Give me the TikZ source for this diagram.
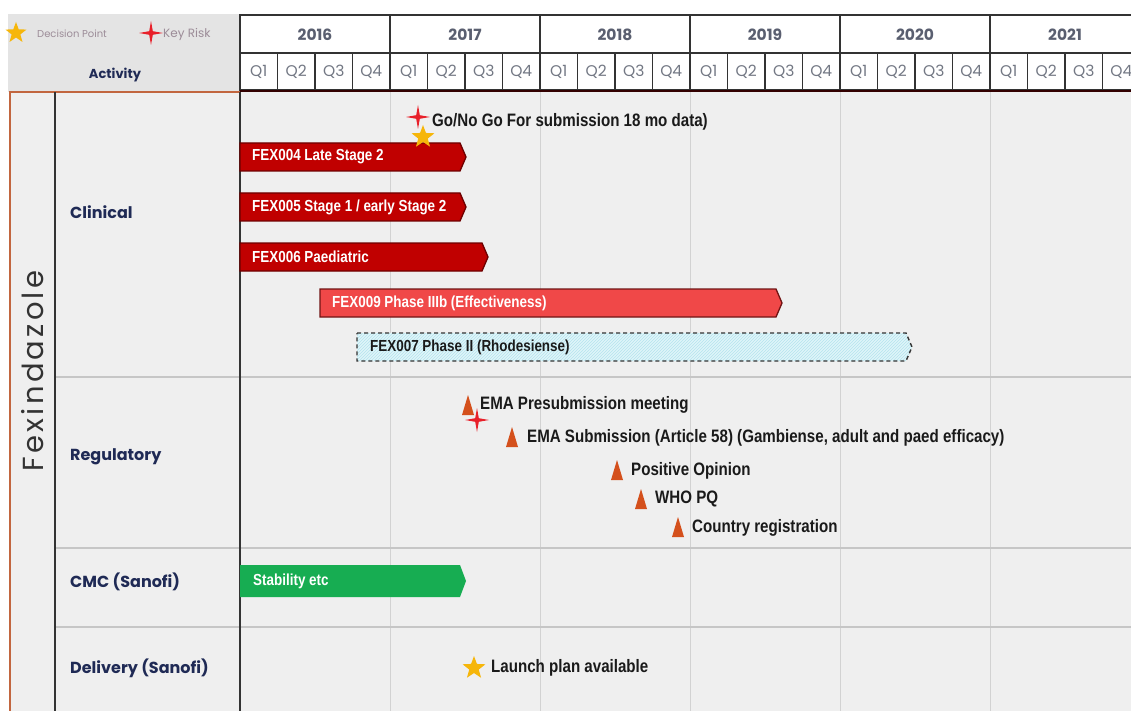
\documentclass[tikz,border=0pt]{standalone}
\usepackage{fontspec}
\setmainfont{Liberation Sans}
\newfontfamily\geo{Poppins}
\newfontfamily\geowide[LetterSpace=11]{Poppins}
\newfontfamily\narrowf[FakeStretch=0.84]{Liberation Sans}
\usetikzlibrary{shapes.geometric,patterns}
\definecolor{bggray}{HTML}{EFEFEF}
\definecolor{leggray}{HTML}{E4E4E4}
\definecolor{gridgray}{HTML}{D2D2D2}
\definecolor{sepgray}{HTML}{C6C6C6}
\definecolor{hdrline}{HTML}{333333}
\definecolor{framebr}{HTML}{C2663F}
\definecolor{navy}{HTML}{1F2A55}
\definecolor{yeartxt}{HTML}{5A5F70}
\definecolor{qtxt}{HTML}{737884}
\definecolor{legtxt}{HTML}{9C8C98}
\definecolor{darkred}{HTML}{C00000}
\definecolor{darkredb}{HTML}{6E0000}
\definecolor{lightred}{HTML}{F04848}
\definecolor{lightredb}{HTML}{701414}
\definecolor{stabgreen}{HTML}{17AD52}
\definecolor{tricol}{HTML}{D4501C}
\definecolor{starcol}{HTML}{F6B60A}
\definecolor{crosscol}{HTML}{E8202A}
\definecolor{cyanfill}{HTML}{DFF5F9}
\definecolor{cyanpat}{HTML}{B5E3EE}
\definecolor{mstxt}{HTML}{1A1A1A}
\tikzset{
  cattext/.style={font=\geo\bfseries\fontsize{16}{16}\selectfont, text=navy, anchor=west, inner sep=0},
  yeartext/.style={font=\geo\bfseries\fontsize{15.5}{15.5}\selectfont, text=yeartxt, inner sep=0},
  qtext/.style={font=\geo\fontsize{15.5}{15.5}\selectfont, text=qtxt, inner sep=0},
  bartext/.style={font=\narrowf\bfseries\fontsize{16}{16}\selectfont, text=white, anchor=west, inner sep=0},
  mstext/.style={font=\narrowf\bfseries\fontsize{18}{18}\selectfont, text=mstxt, anchor=west, inner sep=0},
  legtext/.style={font=\geo\fontsize{10}{10}\selectfont, text=legtxt, anchor=west, inner sep=0},
  decstar/.style={star, star points=5, star point ratio=2.4, fill=starcol, minimum size=24pt, inner sep=0, draw=none},
  hdrcell/.style={draw=hdrline, line width=1.6pt, fill=white},
}
\newcommand\gbar[5]{% x0, x1, ymid, fill, border
  \path[fill=#4, draw=#5, line width=1.3pt] (#1,#3-14) -- (#2-6,#3-14) -- (#2,#3) -- (#2-6,#3+14) -- (#1,#3+14) -- cycle;}
\newcommand\tri[2]{\fill[tricol] (#1-6,#2+10) -- (#1,#2-10) -- (#1+6,#2+10) -- cycle;}
\newcommand\krisk[2]{\fill[crosscol] (#1,#2-12) -- (#1+1.8,#2-1.8) -- (#1+12,#2) -- (#1+1.8,#2+1.8) -- (#1,#2+12) -- (#1-1.8,#2+1.8) -- (#1-12,#2) -- (#1-1.8,#2-1.8) -- cycle;}
\begin{document}
\begin{tikzpicture}[x=1pt,y=-1pt]
\useasboundingbox (0,0) rectangle (1131,711);
\fill[white] (0,0) rectangle (1131,711);
% legend area
\fill[leggray] (8,14) rectangle (240,92);
% content background
\fill[bggray] (10,92) rectangle (1131,711);
% vertical grid
\foreach \x in {390,540,690,840,990} \draw[gridgray, line width=1pt] (\x,92) -- (\x,711);
% row separators
\foreach \y in {377,548,627} \draw[sepgray, line width=1.6pt] (55,\y) -- (1131,\y);
% header cells
\foreach \i/\yr in {0/2016,1/2017,2/2018,3/2019,4/2020} {
  \draw[hdrcell] (240+150*\i,15) rectangle (390+150*\i,53);
  \node[yeartext] (yr\yr) at (315+150*\i,35) {\yr};
}
\path[fill=white] (990,15) rectangle (1131,53);
\draw[hdrline, line width=1.6pt] (1131,15) -- (990,15) -- (990,53) -- (1131,53);
\node[yeartext] (yr2021) at (1065,35) {2021};
\foreach \j in {0,...,23} {
  \pgfmathsetmacro\qx{240+37.5*\j}
  \pgfmathtruncatemacro\qn{mod(\j,4)+1}
  \draw[hdrcell] (\qx,53) rectangle (\qx+37.5,90);
  \node[qtext] (q\j) at (\qx+18.75,72) {Q\qn};
}
\draw[hdrline, line width=2.6pt] (240,53) -- (1131,53);
\draw[black!80!red, line width=2.6pt] (240,91) -- (1131,91);
% left frame
\draw[framebr, line width=1.5pt] (10,711) -- (10,92) -- (240,92);
\draw[hdrline, line width=1.5pt] (55,92) -- (55,711);
\draw[hdrline, line width=1.5pt] (240,92) -- (240,711);
% legend
\node[decstar, minimum size=22pt] (legstar) at (16,33) {};
\node[legtext] (legdp) at (37,34) {Decision Point};
\krisk{151}{33}
\node[legtext, font=\geo\fontsize{12}{12}\selectfont] (legkr) at (163,34) {Key Risk};
\node[font=\geo\bfseries\fontsize{13}{13}\selectfont, text=navy, inner sep=0] (activity) at (115,75) {Activity};
% labels
\node[font=\geowide\fontsize{29}{29}\selectfont, text=black!80, rotate=90, inner sep=0] (fex) at (33,371) {Fexindazole};
\node[cattext] (clin) at (70,212) {Clinical};
\node[cattext] (reg) at (70,457) {Regulatory};
\node[cattext] (cmc) at (70,582) {CMC (Sanofi)};
\node[cattext] (del) at (70,668) {Delivery (Sanofi)};
% clinical bars
\gbar{240}{466}{157}{darkred}{darkredb}
\node[bartext] (fex004) at (252,157) {FEX004 Late Stage 2};
\gbar{240}{466}{207}{darkred}{darkredb}
\node[bartext] (fex005) at (252,207) {FEX005 Stage 1 / early Stage 2};
\gbar{240}{488}{257}{darkred}{darkredb}
\node[bartext] (fex006) at (252,257) {FEX006 Paediatric};
\gbar{320}{782}{303}{lightred}{lightredb}
\node[bartext] (fex009) at (332,303) {FEX009 Phase IIIb (Effectiveness)};
\path[fill=cyanfill] (357,333) -- (906,333) -- (912,347) -- (906,361) -- (357,361) -- cycle;
\path[pattern=north east lines, pattern color=cyanpat] (357,333) -- (906,333) -- (912,347) -- (906,361) -- (357,361) -- cycle;
\draw[hdrline, line width=1.4pt, dash pattern=on 4pt off 3pt] (357,333) -- (906,333) -- (912,347) -- (906,361) -- (357,361) -- cycle;
\node[bartext, text=mstxt] (fex007) at (370,347) {FEX007 Phase II (Rhodesiense)};
% go / no go
\krisk{418}{117}
\node[decstar] (gostar) at (423,137) {};
\node[mstext] (gonogo) at (432,122) {Go/No Go For submission 18 mo data)};
% regulatory
\tri{468}{405}
\node[mstext] (emapre) at (480,405) {EMA Presubmission meeting};
\krisk{477}{420}
\tri{512}{437}
\node[mstext] (emasub) at (527,438) {EMA Submission (Article 58) (Gambiense, adult and paed efficacy)};
\tri{617}{470}
\node[mstext] (posop) at (631,471) {Positive Opinion};
\tri{641}{499}
\node[mstext] (whopq) at (655,499) {WHO PQ};
\tri{678}{527}
\node[mstext] (country) at (692,528) {Country registration};
% CMC
\path[fill=stabgreen] (240,565) -- (460,565) -- (466,581) -- (460,597) -- (240,597) -- cycle;
\node[bartext] (stab) at (253,581) {Stability etc};
% delivery
\node[decstar] (launchstar) at (474,668) {};
\node[mstext] (launch) at (491,668) {Launch plan available};
\end{tikzpicture}
\end{document}
